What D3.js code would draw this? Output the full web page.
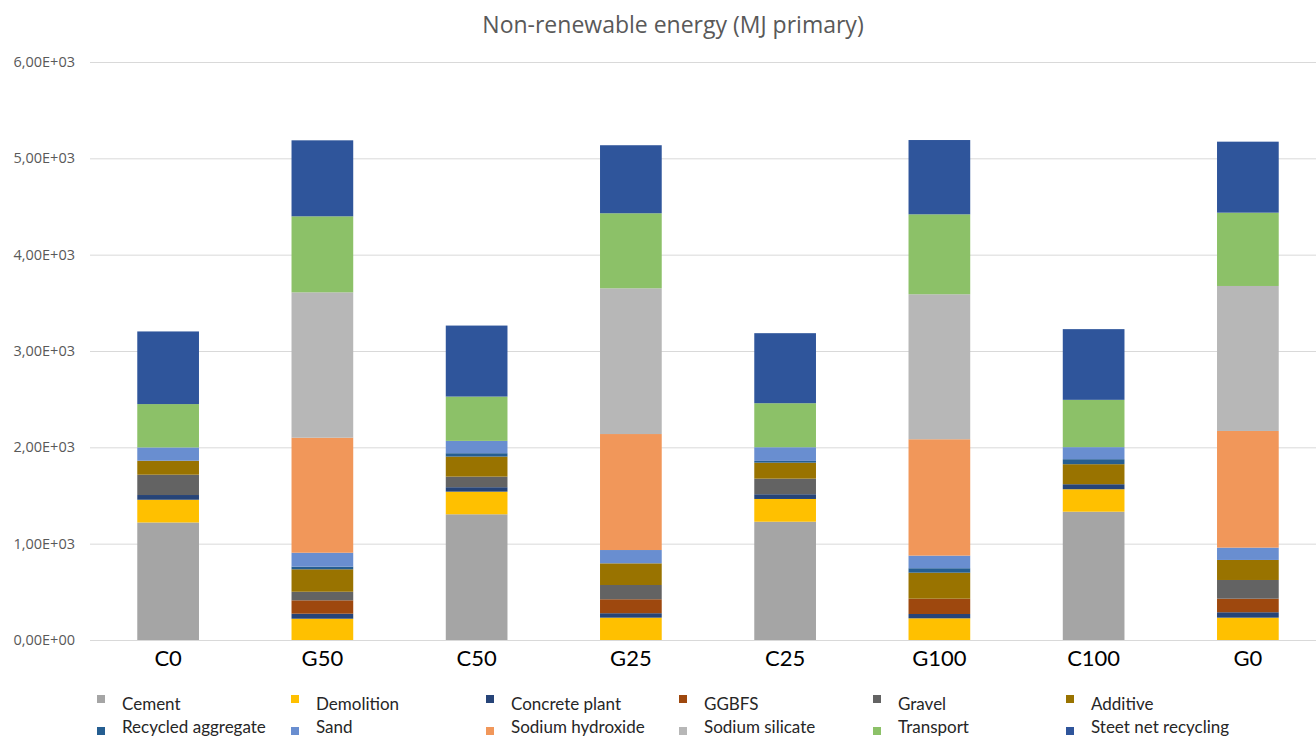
<!DOCTYPE html>
<html>
<head>
<meta charset="utf-8">
<script src="https://cdn.jsdelivr.net/npm/d3@7"></script>
<style>
  html, body { margin: 0; padding: 0; background: #ffffff; }
  svg { display: block; }
</style>
</head>
<body>
<svg id="chart" width="1316" height="736"></svg>
<script>
// Mixes shown along the x axis
const categories = ["C0", "G50", "C50", "G25", "C25", "G100", "C100", "G0"];

// Contributors, stacked bottom to top
const seriesNames = [
  "Cement", "Demolition", "Concrete plant", "GGBFS", "Gravel", "Additive",
  "Recycled aggregate", "Sand", "Sodium hydroxide", "Sodium silicate",
  "Transport", "Steet net recycling"
];

// Non-renewable energy per contributor (MJ primary), one value per mix
const cement            = [1220,    0, 1305,    0, 1228,    0, 1332,    0];
const demolition        = [ 236,  221,  235,  232,  236,  225,  233,  232];
const concretePlant     = [  49,   52,   46,   46,   49,   45,   52,   56];
const ggbfs             = [   0,  139,    0,  145,    0,  159,    0,  141];
const gravel            = [ 211,   89,  110,  148,  162,    0,    0,  194];
const additive          = [ 145,  233,  208,  225,  166,  270,  208,  208];
const recycledAggregate = [   0,   27,   35,    0,   18,   46,   52,    0];
const sand              = [ 138,  145,  128,  138,  142,  131,  125,  128];
const sodiumHydroxide   = [   0, 1194,    0, 1204,    0, 1208,    0, 1211];
const sodiumSilicate    = [   0, 1509,    0, 1513,    0, 1505,    0, 1505];
const transport         = [ 450,  789,  460,  779,  457,  830,  491,  761];
const steelRecycling    = [ 754,  789,  737,  706,  727,  771,  734,  737];

const seriesValues = [
  cement, demolition, concretePlant, ggbfs, gravel, additive,
  recycledAggregate, sand, sodiumHydroxide, sodiumSilicate, transport, steelRecycling
];

const colors = [
  "#a5a5a5", "#ffc000", "#264478", "#9e480e", "#636363", "#997300",
  "#255e91", "#698ed0", "#f1975a", "#b7b7b7", "#8cc168", "#2f559b"
];

const yTicks = [0, 1000, 2000, 3000, 4000, 5000, 6000];
const title = "Non-renewable energy (MJ primary)";

// Rows for d3.stack
const rows = categories.map((c, i) => {
  const r = { category: c };
  seriesNames.forEach((s, k) => { r[s] = seriesValues[k][i]; });
  return r;
});

const svg = d3.select("#chart");

const x = d3.scaleBand().domain(categories).range([91, 1325]).paddingInner(0.6).paddingOuter(0.3);
const y = d3.scaleLinear().domain([0, 6000]).range([640, 62]);
const color = d3.scaleOrdinal().domain(seriesNames).range(colors);

// Title
svg.append("text")
  .attr("x", 673).attr("y", 33)
  .attr("text-anchor", "middle")
  .attr("font-family", "'Open Sans', sans-serif")
  .attr("font-size", 23)
  .attr("fill", "#595959")
  .text(title);

// Gridlines and y labels in scientific notation with a decimal comma
const fmt = v => {
  const s = v.toExponential(2).toUpperCase();
  const [m, e] = s.split("E");
  const sign = e[0] === "-" ? "-" : "+";
  const digits = e.replace(/[+-]/, "").padStart(2, "0");
  return m.replace(".", ",") + "E" + sign + digits;
};

const yAxis = d3.axisLeft(y).tickValues(yTicks).tickSize(-(1316 - 90)).tickFormat(fmt).tickPadding(15);
const gy = svg.append("g").attr("transform", "translate(90,0)").call(yAxis);
gy.select(".domain").remove();
gy.selectAll(".tick line").attr("stroke", "#d9d9d9").attr("stroke-width", 1);
gy.selectAll(".tick text")
  .attr("font-family", "'Open Sans', sans-serif")
  .attr("font-size", 14.5)
  .attr("fill", "#595959");

// Stacked bars
const stacked = d3.stack().keys(seriesNames)(rows);

svg.append("g").selectAll("g")
  .data(stacked)
  .join("g")
  .attr("fill", d => color(d.key))
  .selectAll("rect")
  .data(d => d)
  .join("rect")
  .attr("x", d => x(d.data.category))
  .attr("width", x.bandwidth())
  .attr("y", d => y(d[1]))
  .attr("height", d => Math.max(0, y(d[0]) - y(d[1])));

// Category labels
const xAxis = d3.axisBottom(x).tickSize(0).tickPadding(10);
const gx = svg.append("g").attr("transform", "translate(0,640)").call(xAxis);
gx.select(".domain").remove();
gx.selectAll(".tick text")
  .attr("font-family", "Lato, sans-serif")
  .attr("font-size", 22)
  .attr("fill", "#000000");

// Legend: two rows of six
const legendCols = [101, 295, 490, 683, 877, 1070];
const legendRows = [704, 727];
const legend = svg.append("g");
seriesNames.forEach((name, i) => {
  const cx = legendCols[i % 6];
  const cy = legendRows[Math.floor(i / 6)];
  const g = legend.append("g").attr("transform", `translate(${cx},${cy})`);
  g.append("rect").attr("x", -4).attr("y", i < 6 ? -9 : 0).attr("width", 8).attr("height", 8).attr("fill", color(name));
  g.append("text")
    .attr("x", 21).attr("y", 0).attr("dy", "0.35em")
    .attr("font-family", "Lato, sans-serif")
    .attr("font-size", 17)
    .attr("fill", "#262626")
    .text(name);
});
</script>
</body>
</html>
